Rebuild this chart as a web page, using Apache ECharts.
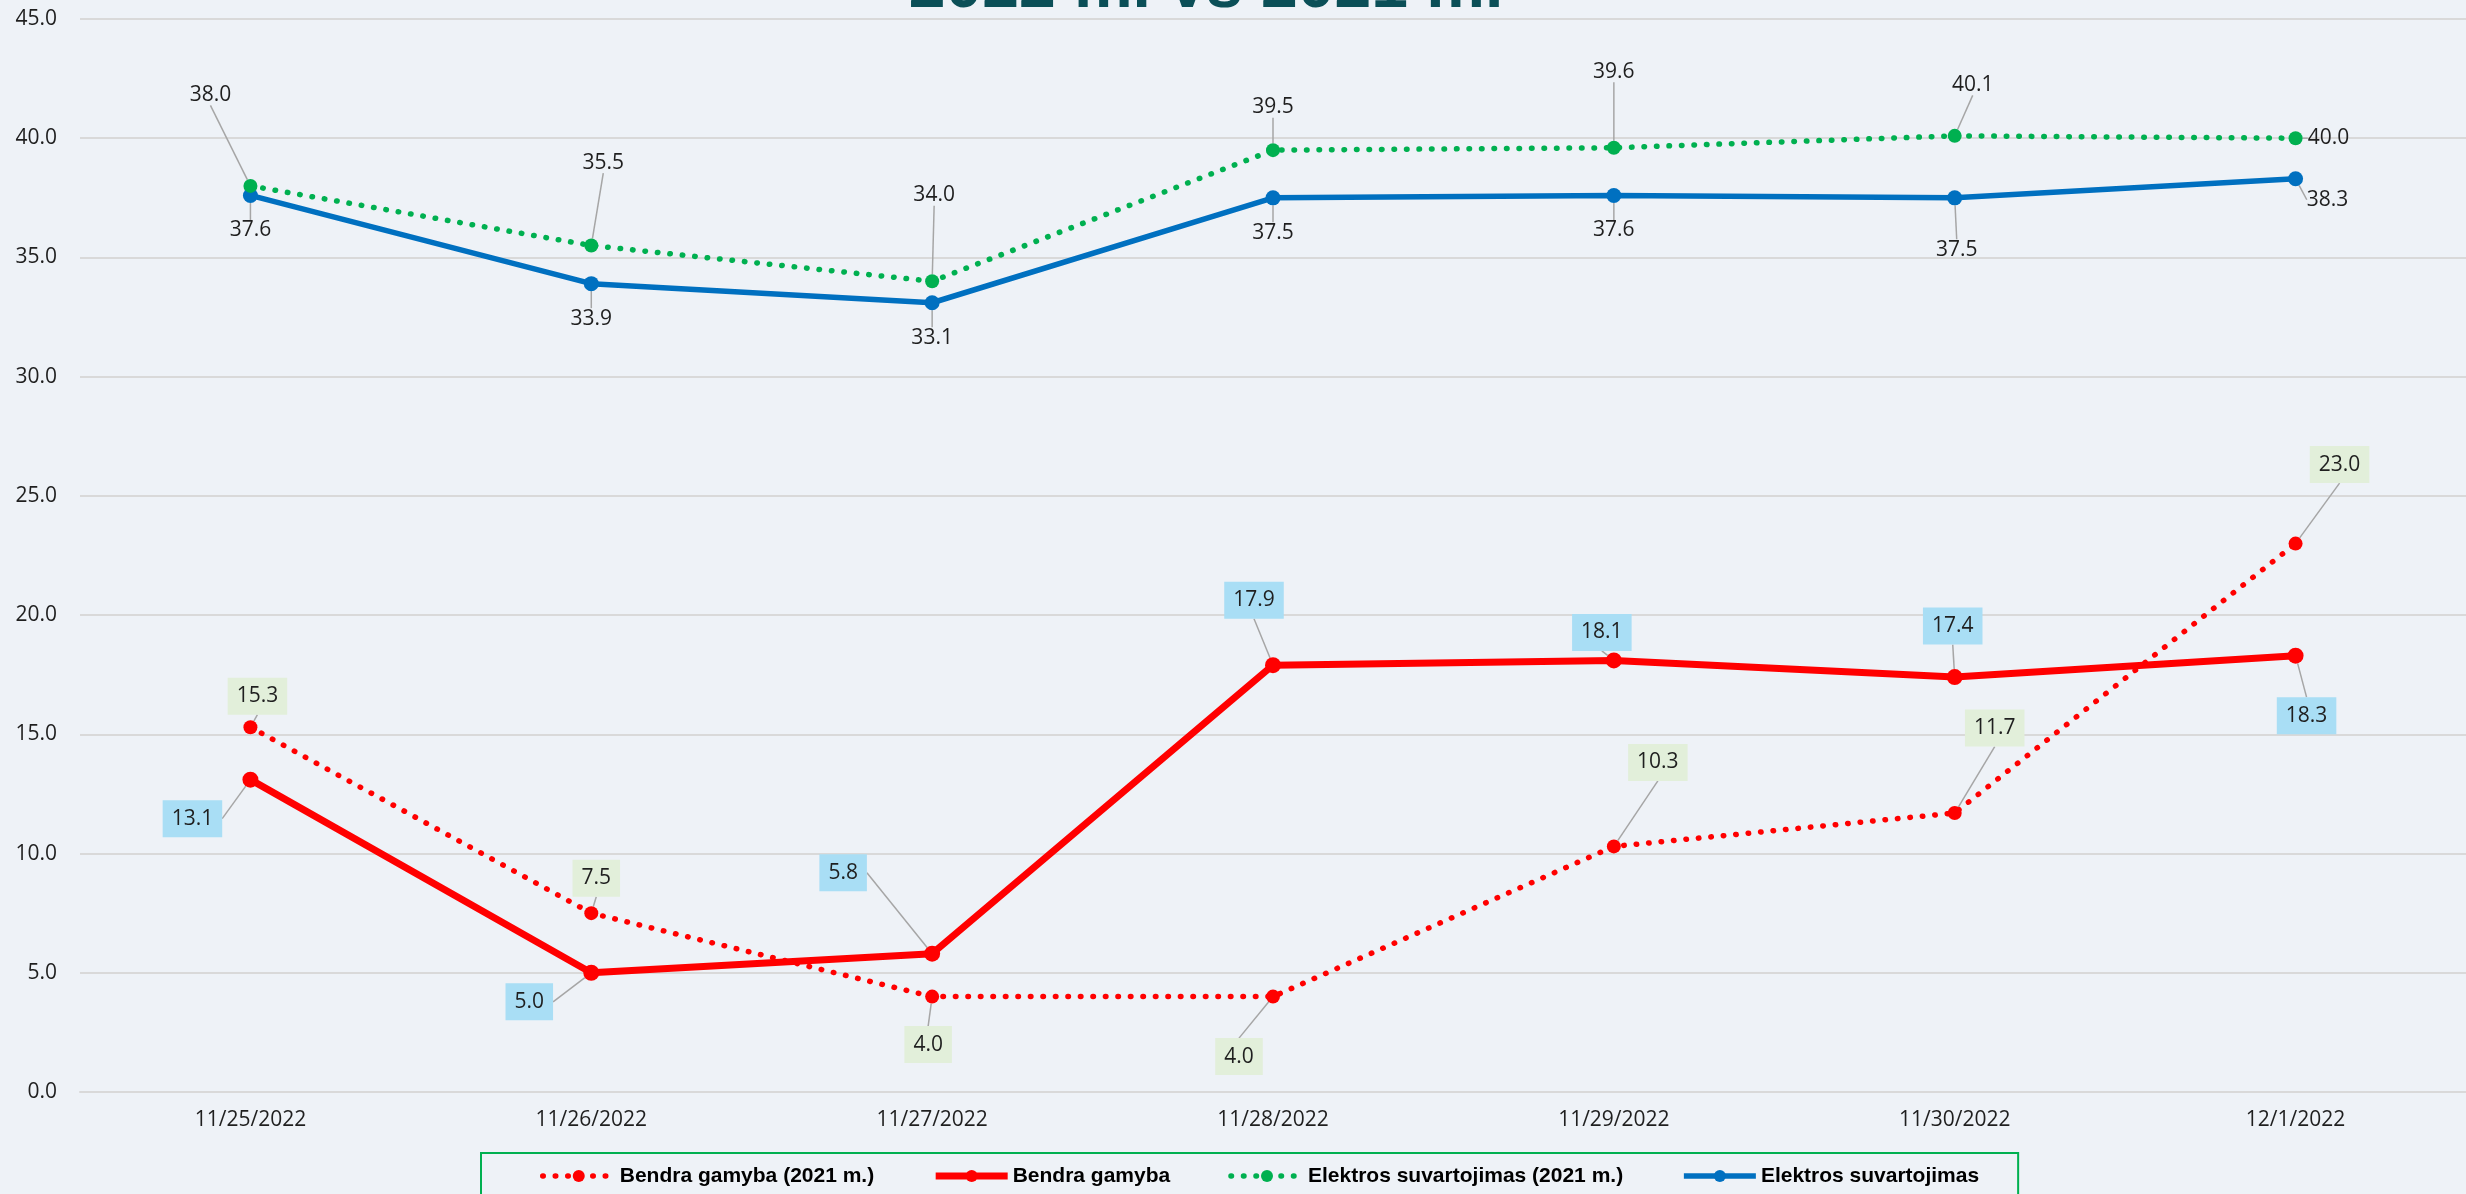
<!DOCTYPE html>
<html>
<head>
<meta charset="utf-8">
<script src="https://cdn.jsdelivr.net/npm/echarts@6/dist/echarts.min.js"></script>
<style>
html,body{margin:0;padding:0;background:#eef2f7;}
#chart{width:2466px;height:1194px;}
</style>
</head>
<body>
<div id="chart"></div>
<script>
// ---- data ----
const categories = ['11/25/2022', '11/26/2022', '11/27/2022', '11/28/2022', '11/29/2022', '11/30/2022', '12/1/2022'];
const seriesNames = ['Bendra gamyba (2021 m.)', 'Bendra gamyba', 'Elektros suvartojimas (2021 m.)', 'Elektros suvartojimas'];
const bendra2021 = [15.3, 7.5, 4.0, 4.0, 10.3, 11.7, 23.0];
const bendra = [13.1, 5.0, 5.8, 17.9, 18.1, 17.4, 18.3];
const elektros2021 = [38.0, 35.5, 34.0, 39.5, 39.6, 40.1, 40.0];
const elektros = [37.6, 33.9, 33.1, 37.5, 37.6, 37.5, 38.3];
const titleText = '2022 m. vs 2021 m.';

// ---- label placement (style, px offsets from the marker centre) ----
const offB2021 = [[7, -31], [5, -35], [-4, 48], [-34, 60], [44, -84], [40, -85], [44, -79]];
const offB = [[-58, 39], [-62, 29], [-89, -81], [-19, -65], [-12, -28], [-2, -51], [11, 60]];
const offE2021 = [[-40, -91], [12, -83], [2, -86], [0, -43], [0, -76], [18, -51], [33, 0]];
const offE = [[0, 35], [0, 35], [0, 35], [0, 35], [0, 35], [2, 52], [32, 21]];

function layoutFrom(offsets) {
  return function (p) {
    const o = offsets[p.dataIndex];
    const cx = p.rect.x + p.rect.width / 2;
    const cy = p.rect.y + p.rect.height / 2;
    return { x: cx + o[0], y: cy + o[1], align: 'center', verticalAlign: 'middle' };
  };
}

const FONT = 'Open Sans';
const labelBase = {
  show: true,
  formatter: p => p.value.toFixed(1),
  fontFamily: FONT,
  fontSize: 21,
  color: '#1f1f1f'
};
const guide = { show: true, lineStyle: { color: '#a6a6a6', width: 1.5 } };
const dotted = { type: [0.5, 12], cap: 'round', width: 5.5 };

const chart = echarts.init(document.getElementById('chart'), null, { renderer: 'canvas' });
chart.setOption({
  backgroundColor: '#eef2f7',
  animation: false,
  graphic: [{
    type: 'text',
    x: 1206,
    y: -11,
    style: {
      text: titleText,
      align: 'center',
      verticalAlign: 'middle',
      fontFamily: 'Liberation Sans',
      fontWeight: 'bold',
      fontSize: 66,
      fill: '#0b4f57'
    }
  }],
  grid: { left: 80, right: -8, top: 19, bottom: 102 },
  legend: {
    data: seriesNames,
    left: 481,
    top: 1153,
    padding: [11, 39, 30, 59],
    itemGap: 58,
    itemWidth: 72,
    itemHeight: 15,
    borderColor: '#00b050',
    borderWidth: 2,
    lineStyle: { width: 'inherit' },
    textStyle: { fontFamily: 'Liberation Sans', fontWeight: 'bold', fontSize: 21, color: '#000', lineHeight: 24 }
  },
  xAxis: {
    type: 'category',
    data: categories,
    boundaryGap: true,
    axisLine: { lineStyle: { color: '#d9d9d9', width: 2 } },
    axisTick: { show: false },
    axisLabel: { fontFamily: FONT, fontSize: 21, color: '#1f1f1f', margin: 18 }
  },
  yAxis: {
    type: 'value',
    min: 0,
    max: 45,
    interval: 5,
    axisLine: { show: false },
    axisTick: { show: false },
    axisLabel: { fontFamily: FONT, fontSize: 21, color: '#1f1f1f', margin: 23, formatter: v => v.toFixed(1) },
    splitLine: { lineStyle: { color: '#d9d9d9', width: 2 } }
  },
  series: [
    {
      name: seriesNames[0], type: 'line', data: bendra2021, z: 4,
      color: '#ff0000',
      lineStyle: Object.assign({ color: '#ff0000' }, dotted),
      symbol: 'circle', symbolSize: 14,
      itemStyle: { color: '#ff0000' },
      label: Object.assign({}, labelBase, { backgroundColor: '#e2efda', padding: [8, 9, 8, 9] }),
      labelLine: guide,
      labelLayout: layoutFrom(offB2021)
    },
    {
      name: seriesNames[1], type: 'line', data: bendra, z: 3,
      color: '#ff0000',
      lineStyle: { color: '#ff0000', width: 7 },
      symbol: 'circle', symbolSize: 16,
      itemStyle: { color: '#ff0000' },
      label: Object.assign({}, labelBase, { backgroundColor: '#a9def5', padding: [8, 9, 8, 9] }),
      labelLine: guide,
      labelLayout: layoutFrom(offB)
    },
    {
      name: seriesNames[2], type: 'line', data: elektros2021, z: 4,
      color: '#00b050',
      lineStyle: Object.assign({ color: '#00b050' }, dotted),
      symbol: 'circle', symbolSize: 14,
      itemStyle: { color: '#00b050' },
      label: Object.assign({}, labelBase),
      labelLine: guide,
      labelLayout: layoutFrom(offE2021)
    },
    {
      name: seriesNames[3], type: 'line', data: elektros, z: 3,
      color: '#0070c0',
      lineStyle: { color: '#0070c0', width: 5.5 },
      symbol: 'circle', symbolSize: 15,
      itemStyle: { color: '#0070c0' },
      label: Object.assign({}, labelBase),
      labelLine: guide,
      labelLayout: layoutFrom(offE)
    }
  ]
});
</script>
</body>
</html>
